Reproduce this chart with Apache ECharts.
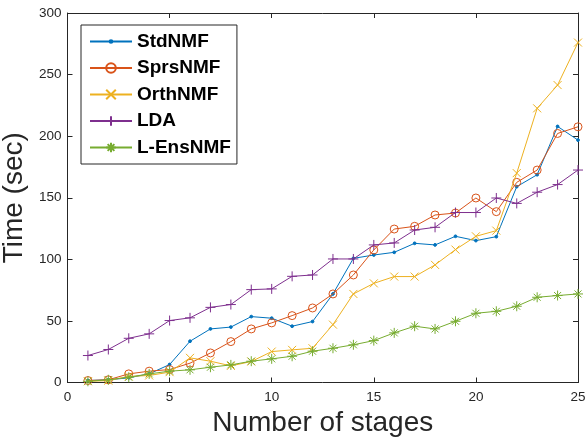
<!DOCTYPE html>
<html>
<head>
<meta charset="utf-8">
<script src="https://cdn.jsdelivr.net/npm/echarts@6/dist/echarts.min.js"></script>
<style>html,body{margin:0;padding:0;background:#fff}#c{width:587px;height:443px}</style>
</head>
<body>
<div id="c"></div>
<script>
var stages = [1,2,3,4,5,6,7,8,9,10,11,12,13,14,15,16,17,18,19,20,21,22,23,24,25];
var stdNMF = [1.6,2.2,3.8,7,14.6,33.5,43.5,45,53.5,52.2,45.7,49.5,71.9,100.8,103.5,105.7,113,111.7,118.7,115.2,118.4,159,168.7,207.9,196.8];
var sprsNMF = [1.6,2.2,7,9.2,10.5,15.7,24,33.2,43.5,48.4,54.3,60.5,71.9,87.3,107.6,124.6,126.8,136,137.6,149.8,138.7,162.5,172.5,202.2,207.6];
var orthNMF = [1,1.5,4.9,5.7,8.4,20,17.3,13.5,17,25.1,26.5,27.8,47,71.9,80.5,86,86,95.5,107.9,118.7,123.3,170,222.6,241.5,276];
var lda = [21.9,26.8,35.9,39.5,50.3,52.5,61,63.3,75.4,76,86.2,87.3,100.3,100.3,111.7,113.3,123.8,126,138,138,149.8,145.4,154.5,160.7,172.5];
var lEnsNMF = [1,2.2,4.3,7,9.2,10.3,12.4,14.3,17.3,19.2,21.3,25.4,27.8,30.6,34,40.3,45.7,43.5,49.7,56.2,57.8,61.9,69.2,70.6,71.9];
var seriesNames = ['StdNMF','SprsNMF','OrthNMF','LDA','L-EnsNMF'];
var xTicks = [0,5,10,15,20,25];
var yTicks = [0,50,100,150,200,250,300];

var colors = ['#0072BD','#D95319','#EDB120','#7E2F8E','#77AC30'];
var symbols = [
  'path://M0,0M10,10M3.6,5A1.4,1.4,0,1,1,6.4,5A1.4,1.4,0,1,1,3.6,5Z',
  'circle',
  'path://M0,0L10,10M10,0L0,10',
  'path://M5,0L5,10M0,5L10,5',
  'path://M5,0L5,10M0,5L10,5M1.5,1.5L8.5,8.5M8.5,1.5L1.5,8.5'
];
var sizes = [10, 8, 8, 10, 10];
var fills = ['#0072BD','rgba(255,255,255,0)','rgba(255,255,255,0)','rgba(255,255,255,0)','rgba(255,255,255,0)'];
var values = [stdNMF, sprsNMF, orthNMF, lda, lEnsNMF];

var FONT = 'Liberation Sans, Arial, sans-serif';
var AX = '#262626';

var series = seriesNames.map(function(n, i){
  return {
    name: n, type: 'line',
    data: stages.map(function(x, j){ return [x, values[i][j]]; }),
    symbol: symbols[i], symbolSize: sizes[i], showSymbol: true,
    color: colors[i],
    lineStyle: {color: colors[i], width: 1},
    itemStyle: {color: fills[i], borderColor: colors[i], borderWidth: 1},
    emphasis: {disabled: true},
    z: 2 + i
  };
});

function axisCommon(extra){
  var o = {
    type: 'value',
    axisLine: {show: true, onZero: false, lineStyle: {color: AX, width: 1}},
    axisTick: {show: true, inside: true, length: 5, lineStyle: {color: AX}},
    splitLine: {show: false}
  };
  for (var k in extra) o[k] = extra[k];
  return o;
}

var chart = echarts.init(document.getElementById('c'), null, {renderer: 'canvas'});
chart.setOption({
  animation: false,
  backgroundColor: '#fff',
  grid: {left: 67.5, right: 9, top: 13, bottom: 60.5, containLabel: false, outerBoundsMode: 'none'},
  xAxis: [
    axisCommon({min: xTicks[0], max: xTicks[xTicks.length-1], interval: 5, position: 'bottom',
      name: 'Number of stages', nameLocation: 'middle', nameGap: 26,
      nameTextStyle: {fontFamily: FONT, fontSize: 28, color: AX},
      axisLabel: {fontFamily: FONT, fontSize: 13.5, color: AX, margin: 8}}),
    axisCommon({min: xTicks[0], max: xTicks[xTicks.length-1], interval: 5, position: 'top',
      axisLabel: {show: false}})
  ],
  yAxis: [
    axisCommon({min: yTicks[0], max: yTicks[yTicks.length-1], interval: 50, position: 'left',
      name: 'Time (sec)', nameLocation: 'middle', nameGap: 33,
      nameTextStyle: {fontFamily: FONT, fontSize: 28, color: AX},
      axisLabel: {fontFamily: FONT, fontSize: 13.5, color: AX, margin: 6}}),
    axisCommon({min: yTicks[0], max: yTicks[yTicks.length-1], interval: 50, position: 'right',
      axisLabel: {show: false}})
  ],
  legend: {
    data: seriesNames,
    orient: 'vertical', left: 81, top: 25,
    itemWidth: 42, itemHeight: 12, itemGap: 7.5,
    padding: [7, 6, 7, 8],
    borderColor: AX, borderWidth: 1, backgroundColor: '#fff',
    textStyle: {fontFamily: FONT, fontSize: 19, fontWeight: 'bold', color: '#000'},
    selectedMode: false
  },
  series: series
});
</script>
</body>
</html>
